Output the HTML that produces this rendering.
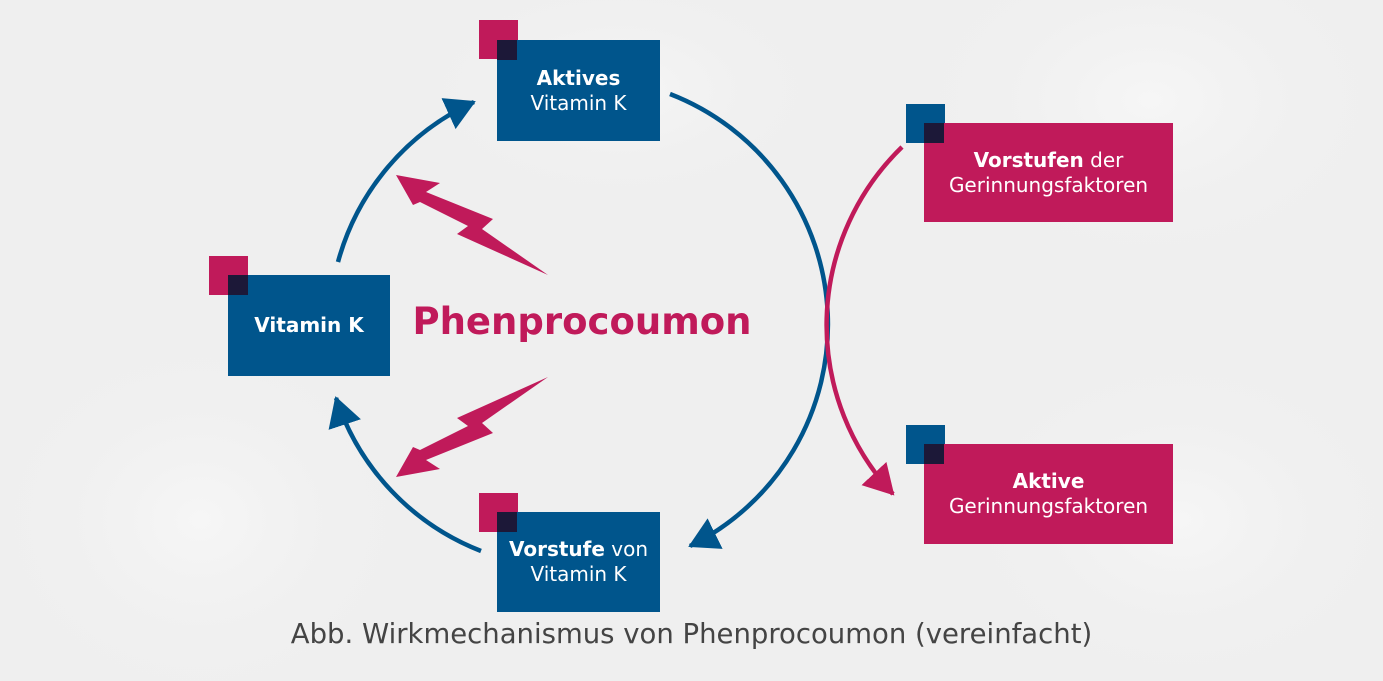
<!DOCTYPE html>
<html><head><meta charset="utf-8"><style>
html,body{margin:0;padding:0}
body{width:1383px;height:681px;overflow:hidden;background:#efefef;font-family:"Liberation Sans",sans-serif;position:relative}
.box{position:absolute;color:#fff;font-family:"DejaVu Sans","Liberation Sans",sans-serif;font-size:20px;line-height:25px;text-align:center;display:flex;flex-direction:column;justify-content:center}
.b{background:#00558c}.p{background:#c01a5a}
.sq{position:absolute;width:39px;height:39px}
.ov{position:absolute;width:20px;height:20px;background:#1c1838}
b{font-weight:bold}
</style></head><body>
<svg width="1383" height="681" style="position:absolute;left:0;top:0">
<defs>
<radialGradient id="g1"><stop offset="0" stop-color="#f6f6f6"/><stop offset="1" stop-color="#efefef" stop-opacity="0"/></radialGradient>
<marker id="ab" markerUnits="userSpaceOnUse" markerWidth="36" markerHeight="36" refX="28" refY="17" orient="auto"><path d="M0,0 L30,17 L0,34 Z" fill="#00558c"/></marker>
<marker id="ap" markerUnits="userSpaceOnUse" markerWidth="36" markerHeight="36" refX="28" refY="17" orient="auto"><path d="M0,0 L30,17 L0,34 Z" fill="#c01a5a"/></marker>
</defs>
<ellipse cx="1150" cy="100" rx="260" ry="180" fill="url(#g1)"/>
<ellipse cx="200" cy="520" rx="230" ry="200" fill="url(#g1)"/>
<ellipse cx="1180" cy="520" rx="240" ry="180" fill="url(#g1)"/>
<ellipse cx="620" cy="90" rx="220" ry="120" fill="url(#g1)"/>
<path d="M338,262 A247,247 0 0 1 474,102" fill="none" stroke="#00558c" stroke-width="4.5" marker-end="url(#ab)"/>
<path d="M670,94 A247,247 0 0 1 690,546" fill="none" stroke="#00558c" stroke-width="4.5" marker-end="url(#ab)"/>
<path d="M481,551 A247,247 0 0 1 336,398" fill="none" stroke="#00558c" stroke-width="4.5" marker-end="url(#ab)"/>
<path d="M902,147 A248,248 0 0 0 893,494" fill="none" stroke="#c01a5a" stroke-width="4.5" marker-end="url(#ap)"/>
<polygon points="396,175 440,183 426,192 493,219 482,229 548,275 457,234 468,226 420,202 413,205" fill="#c01a5a"/>
<polygon points="396,477 440,469 426,460 493,433 482,423 548,377 457,418 468,426 420,450 413,447" fill="#c01a5a"/>
</svg>

<div class="sq p" style="left:479px;top:20px"></div>
<div class="box b" style="left:497px;top:40px;width:163px;height:101px"><div><b>Aktives</b><br>Vitamin K</div></div>
<div class="ov" style="left:497px;top:40px"></div>

<div class="sq p" style="left:209px;top:256px"></div>
<div class="box b" style="left:228px;top:275px;width:162px;height:101px"><div><b>Vitamin K</b></div></div>
<div class="ov" style="left:228px;top:275px"></div>

<div class="sq p" style="left:479px;top:493px"></div>
<div class="box b" style="left:497px;top:512px;width:163px;height:100px"><div><b>Vorstufe</b> von<br>Vitamin K</div></div>
<div class="ov" style="left:497px;top:512px"></div>

<div class="sq b" style="left:906px;top:104px"></div>
<div class="box p" style="left:924px;top:123px;width:249px;height:99px"><div><b>Vorstufen</b> der<br>Gerinnungsfaktoren</div></div>
<div class="ov" style="left:924px;top:123px"></div>

<div class="sq b" style="left:906px;top:425px"></div>
<div class="box p" style="left:924px;top:444px;width:249px;height:100px"><div><b>Aktive</b><br>Gerinnungsfaktoren</div></div>
<div class="ov" style="left:924px;top:444px"></div>

<div style="position:absolute;left:400px;top:296px;width:364px;text-align:center;font-family:'DejaVu Sans','Liberation Sans',sans-serif;font-weight:bold;font-size:37px;color:#c01a5a;line-height:52px">Phenprocoumon</div>
<div style="position:absolute;left:0;top:616px;width:1383px;text-align:center;font-family:'DejaVu Sans','Liberation Sans',sans-serif;font-size:27.5px;color:#444;line-height:36px;white-space:nowrap">Abb. Wirkmechanismus von Phenprocoumon (vereinfacht)</div>
</body></html>
